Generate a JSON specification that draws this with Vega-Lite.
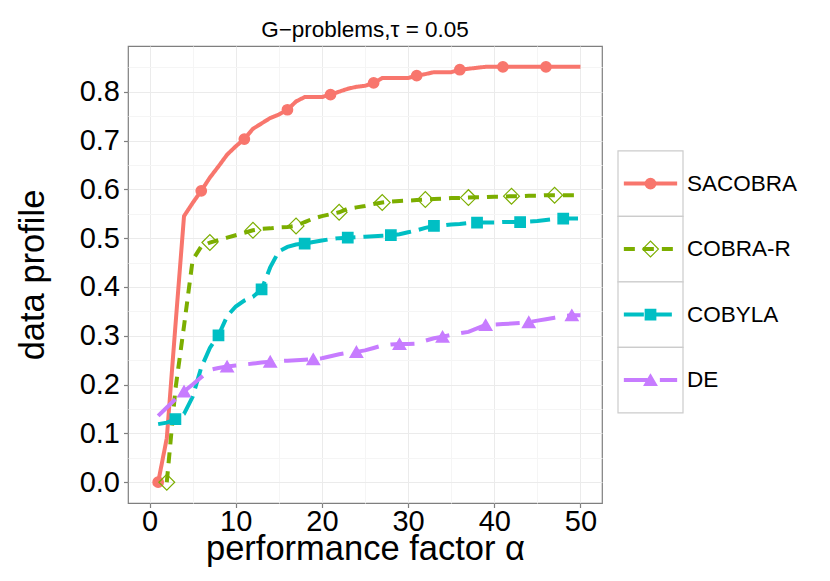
{
  "$schema": "https://vega.github.io/schema/vega-lite/v6.json",
  "background": "white",
  "padding": {"left": 15, "top": 17, "right": 5, "bottom": 5},
  "spacing": 14,
  "config": {
    "font": "Liberation Sans",
    "view": {"stroke": "#7F7F7F", "strokeWidth": 1.2},
    "axis": {
      "domain": false,
      "labelColor": "black",
      "labelFontSize": 29,
      "titleFontWeight": "normal",
      "titleColor": "black",
      "titleFontSize": 34.5,
      "tickColor": "#7F7F7F",
      "tickSize": 4.5,
      "tickWidth": 1.2,
      "gridWidth": 1
    },
    "axisX": {"labelPadding": 0, "titlePadding": -4},
    "axisY": {"labelPadding": 4, "titlePadding": 28.5},
    "title": {"fontSize": 22.5, "fontWeight": "normal", "color": "black", "offset": 5}
  },
  "datasets": {
    "profile": [
      {"solver": "SACOBRA", "alpha": 1, "profile": 0},
      {"solver": "SACOBRA", "alpha": 2, "profile": 0.09},
      {"solver": "SACOBRA", "alpha": 3, "profile": 0.32},
      {"solver": "SACOBRA", "alpha": 4, "profile": 0.545},
      {"solver": "SACOBRA", "alpha": 5, "profile": 0.572},
      {"solver": "SACOBRA", "alpha": 6, "profile": 0.597},
      {"solver": "SACOBRA", "alpha": 7, "profile": 0.624},
      {"solver": "SACOBRA", "alpha": 8, "profile": 0.647},
      {"solver": "SACOBRA", "alpha": 9, "profile": 0.671},
      {"solver": "SACOBRA", "alpha": 10, "profile": 0.688},
      {"solver": "SACOBRA", "alpha": 11, "profile": 0.703},
      {"solver": "SACOBRA", "alpha": 12, "profile": 0.724},
      {"solver": "SACOBRA", "alpha": 13, "profile": 0.735},
      {"solver": "SACOBRA", "alpha": 14, "profile": 0.746},
      {"solver": "SACOBRA", "alpha": 15, "profile": 0.753},
      {"solver": "SACOBRA", "alpha": 16, "profile": 0.763},
      {"solver": "SACOBRA", "alpha": 17, "profile": 0.78},
      {"solver": "SACOBRA", "alpha": 18, "profile": 0.789},
      {"solver": "SACOBRA", "alpha": 19, "profile": 0.789},
      {"solver": "SACOBRA", "alpha": 20, "profile": 0.789},
      {"solver": "SACOBRA", "alpha": 21, "profile": 0.794},
      {"solver": "SACOBRA", "alpha": 22, "profile": 0.8},
      {"solver": "SACOBRA", "alpha": 23, "profile": 0.806},
      {"solver": "SACOBRA", "alpha": 24, "profile": 0.81},
      {"solver": "SACOBRA", "alpha": 25, "profile": 0.812},
      {"solver": "SACOBRA", "alpha": 26, "profile": 0.818},
      {"solver": "SACOBRA", "alpha": 27, "profile": 0.828},
      {"solver": "SACOBRA", "alpha": 28, "profile": 0.828},
      {"solver": "SACOBRA", "alpha": 29, "profile": 0.828},
      {"solver": "SACOBRA", "alpha": 30, "profile": 0.828},
      {"solver": "SACOBRA", "alpha": 31, "profile": 0.833},
      {"solver": "SACOBRA", "alpha": 32, "profile": 0.836},
      {"solver": "SACOBRA", "alpha": 33, "profile": 0.84},
      {"solver": "SACOBRA", "alpha": 34, "profile": 0.84},
      {"solver": "SACOBRA", "alpha": 35, "profile": 0.84},
      {"solver": "SACOBRA", "alpha": 36, "profile": 0.845},
      {"solver": "SACOBRA", "alpha": 37, "profile": 0.847},
      {"solver": "SACOBRA", "alpha": 38, "profile": 0.849},
      {"solver": "SACOBRA", "alpha": 39, "profile": 0.851},
      {"solver": "SACOBRA", "alpha": 40, "profile": 0.851},
      {"solver": "SACOBRA", "alpha": 41, "profile": 0.851},
      {"solver": "SACOBRA", "alpha": 42, "profile": 0.851},
      {"solver": "SACOBRA", "alpha": 43, "profile": 0.851},
      {"solver": "SACOBRA", "alpha": 44, "profile": 0.851},
      {"solver": "SACOBRA", "alpha": 45, "profile": 0.851},
      {"solver": "SACOBRA", "alpha": 46, "profile": 0.851},
      {"solver": "SACOBRA", "alpha": 47, "profile": 0.851},
      {"solver": "SACOBRA", "alpha": 48, "profile": 0.851},
      {"solver": "SACOBRA", "alpha": 49, "profile": 0.851},
      {"solver": "SACOBRA", "alpha": 50, "profile": 0.851},
      {"solver": "COBRA-R", "alpha": 2, "profile": 0},
      {"solver": "COBRA-R", "alpha": 3, "profile": 0.19},
      {"solver": "COBRA-R", "alpha": 4, "profile": 0.32},
      {"solver": "COBRA-R", "alpha": 5, "profile": 0.455},
      {"solver": "COBRA-R", "alpha": 6, "profile": 0.483},
      {"solver": "COBRA-R", "alpha": 7, "profile": 0.491},
      {"solver": "COBRA-R", "alpha": 8, "profile": 0.496},
      {"solver": "COBRA-R", "alpha": 9, "profile": 0.501},
      {"solver": "COBRA-R", "alpha": 10, "profile": 0.506},
      {"solver": "COBRA-R", "alpha": 11, "profile": 0.511},
      {"solver": "COBRA-R", "alpha": 12, "profile": 0.516},
      {"solver": "COBRA-R", "alpha": 13, "profile": 0.519},
      {"solver": "COBRA-R", "alpha": 14, "profile": 0.52},
      {"solver": "COBRA-R", "alpha": 15, "profile": 0.522},
      {"solver": "COBRA-R", "alpha": 16, "profile": 0.523},
      {"solver": "COBRA-R", "alpha": 17, "profile": 0.525},
      {"solver": "COBRA-R", "alpha": 18, "profile": 0.533},
      {"solver": "COBRA-R", "alpha": 19, "profile": 0.54},
      {"solver": "COBRA-R", "alpha": 20, "profile": 0.545},
      {"solver": "COBRA-R", "alpha": 21, "profile": 0.549},
      {"solver": "COBRA-R", "alpha": 22, "profile": 0.553},
      {"solver": "COBRA-R", "alpha": 23, "profile": 0.56},
      {"solver": "COBRA-R", "alpha": 24, "profile": 0.563},
      {"solver": "COBRA-R", "alpha": 25, "profile": 0.566},
      {"solver": "COBRA-R", "alpha": 26, "profile": 0.57},
      {"solver": "COBRA-R", "alpha": 27, "profile": 0.573},
      {"solver": "COBRA-R", "alpha": 28, "profile": 0.575},
      {"solver": "COBRA-R", "alpha": 29, "profile": 0.576},
      {"solver": "COBRA-R", "alpha": 30, "profile": 0.577},
      {"solver": "COBRA-R", "alpha": 31, "profile": 0.578},
      {"solver": "COBRA-R", "alpha": 32, "profile": 0.579},
      {"solver": "COBRA-R", "alpha": 33, "profile": 0.58},
      {"solver": "COBRA-R", "alpha": 34, "profile": 0.581},
      {"solver": "COBRA-R", "alpha": 35, "profile": 0.582},
      {"solver": "COBRA-R", "alpha": 36, "profile": 0.582},
      {"solver": "COBRA-R", "alpha": 37, "profile": 0.583},
      {"solver": "COBRA-R", "alpha": 38, "profile": 0.584},
      {"solver": "COBRA-R", "alpha": 39, "profile": 0.584},
      {"solver": "COBRA-R", "alpha": 40, "profile": 0.585},
      {"solver": "COBRA-R", "alpha": 41, "profile": 0.585},
      {"solver": "COBRA-R", "alpha": 42, "profile": 0.586},
      {"solver": "COBRA-R", "alpha": 43, "profile": 0.586},
      {"solver": "COBRA-R", "alpha": 44, "profile": 0.587},
      {"solver": "COBRA-R", "alpha": 45, "profile": 0.587},
      {"solver": "COBRA-R", "alpha": 46, "profile": 0.588},
      {"solver": "COBRA-R", "alpha": 47, "profile": 0.588},
      {"solver": "COBRA-R", "alpha": 48, "profile": 0.588},
      {"solver": "COBRA-R", "alpha": 49, "profile": 0.588},
      {"solver": "COBRA-R", "alpha": 50, "profile": 0.588},
      {"solver": "COBYLA", "alpha": 1, "profile": 0.119},
      {"solver": "COBYLA", "alpha": 2, "profile": 0.122},
      {"solver": "COBYLA", "alpha": 3, "profile": 0.129},
      {"solver": "COBYLA", "alpha": 4, "profile": 0.14},
      {"solver": "COBYLA", "alpha": 5, "profile": 0.175},
      {"solver": "COBYLA", "alpha": 6, "profile": 0.235},
      {"solver": "COBYLA", "alpha": 7, "profile": 0.275},
      {"solver": "COBYLA", "alpha": 8, "profile": 0.301},
      {"solver": "COBYLA", "alpha": 9, "profile": 0.34},
      {"solver": "COBYLA", "alpha": 10, "profile": 0.36},
      {"solver": "COBYLA", "alpha": 11, "profile": 0.372},
      {"solver": "COBYLA", "alpha": 12, "profile": 0.38},
      {"solver": "COBYLA", "alpha": 13, "profile": 0.395},
      {"solver": "COBYLA", "alpha": 14, "profile": 0.44},
      {"solver": "COBYLA", "alpha": 15, "profile": 0.473},
      {"solver": "COBYLA", "alpha": 16, "profile": 0.482},
      {"solver": "COBYLA", "alpha": 17, "profile": 0.487},
      {"solver": "COBYLA", "alpha": 18, "profile": 0.489},
      {"solver": "COBYLA", "alpha": 19, "profile": 0.492},
      {"solver": "COBYLA", "alpha": 20, "profile": 0.495},
      {"solver": "COBYLA", "alpha": 21, "profile": 0.498},
      {"solver": "COBYLA", "alpha": 22, "profile": 0.5},
      {"solver": "COBYLA", "alpha": 23, "profile": 0.501},
      {"solver": "COBYLA", "alpha": 24, "profile": 0.502},
      {"solver": "COBYLA", "alpha": 25, "profile": 0.503},
      {"solver": "COBYLA", "alpha": 26, "profile": 0.504},
      {"solver": "COBYLA", "alpha": 27, "profile": 0.505},
      {"solver": "COBYLA", "alpha": 28, "profile": 0.506},
      {"solver": "COBYLA", "alpha": 29, "profile": 0.508},
      {"solver": "COBYLA", "alpha": 30, "profile": 0.512},
      {"solver": "COBYLA", "alpha": 31, "profile": 0.516},
      {"solver": "COBYLA", "alpha": 32, "profile": 0.521},
      {"solver": "COBYLA", "alpha": 33, "profile": 0.525},
      {"solver": "COBYLA", "alpha": 34, "profile": 0.526},
      {"solver": "COBYLA", "alpha": 35, "profile": 0.528},
      {"solver": "COBYLA", "alpha": 36, "profile": 0.529},
      {"solver": "COBYLA", "alpha": 37, "profile": 0.531},
      {"solver": "COBYLA", "alpha": 38, "profile": 0.532},
      {"solver": "COBYLA", "alpha": 39, "profile": 0.532},
      {"solver": "COBYLA", "alpha": 40, "profile": 0.532},
      {"solver": "COBYLA", "alpha": 41, "profile": 0.533},
      {"solver": "COBYLA", "alpha": 42, "profile": 0.533},
      {"solver": "COBYLA", "alpha": 43, "profile": 0.533},
      {"solver": "COBYLA", "alpha": 44, "profile": 0.534},
      {"solver": "COBYLA", "alpha": 45, "profile": 0.535},
      {"solver": "COBYLA", "alpha": 46, "profile": 0.537},
      {"solver": "COBYLA", "alpha": 47, "profile": 0.539},
      {"solver": "COBYLA", "alpha": 48, "profile": 0.54},
      {"solver": "COBYLA", "alpha": 49, "profile": 0.54},
      {"solver": "COBYLA", "alpha": 50, "profile": 0.54},
      {"solver": "DE", "alpha": 1, "profile": 0.136},
      {"solver": "DE", "alpha": 2, "profile": 0.153},
      {"solver": "DE", "alpha": 3, "profile": 0.17},
      {"solver": "DE", "alpha": 4, "profile": 0.186},
      {"solver": "DE", "alpha": 5, "profile": 0.2},
      {"solver": "DE", "alpha": 6, "profile": 0.215},
      {"solver": "DE", "alpha": 7, "profile": 0.23},
      {"solver": "DE", "alpha": 8, "profile": 0.234},
      {"solver": "DE", "alpha": 9, "profile": 0.237},
      {"solver": "DE", "alpha": 10, "profile": 0.239},
      {"solver": "DE", "alpha": 11, "profile": 0.241},
      {"solver": "DE", "alpha": 12, "profile": 0.243},
      {"solver": "DE", "alpha": 13, "profile": 0.245},
      {"solver": "DE", "alpha": 14, "profile": 0.247},
      {"solver": "DE", "alpha": 15, "profile": 0.248},
      {"solver": "DE", "alpha": 16, "profile": 0.249},
      {"solver": "DE", "alpha": 17, "profile": 0.25},
      {"solver": "DE", "alpha": 18, "profile": 0.251},
      {"solver": "DE", "alpha": 19, "profile": 0.252},
      {"solver": "DE", "alpha": 20, "profile": 0.254},
      {"solver": "DE", "alpha": 21, "profile": 0.258},
      {"solver": "DE", "alpha": 22, "profile": 0.262},
      {"solver": "DE", "alpha": 23, "profile": 0.265},
      {"solver": "DE", "alpha": 24, "profile": 0.267},
      {"solver": "DE", "alpha": 25, "profile": 0.27},
      {"solver": "DE", "alpha": 26, "profile": 0.275},
      {"solver": "DE", "alpha": 27, "profile": 0.28},
      {"solver": "DE", "alpha": 28, "profile": 0.282},
      {"solver": "DE", "alpha": 29, "profile": 0.283},
      {"solver": "DE", "alpha": 30, "profile": 0.283},
      {"solver": "DE", "alpha": 31, "profile": 0.284},
      {"solver": "DE", "alpha": 32, "profile": 0.29},
      {"solver": "DE", "alpha": 33, "profile": 0.295},
      {"solver": "DE", "alpha": 34, "profile": 0.298},
      {"solver": "DE", "alpha": 35, "profile": 0.302},
      {"solver": "DE", "alpha": 36, "profile": 0.305},
      {"solver": "DE", "alpha": 37, "profile": 0.308},
      {"solver": "DE", "alpha": 38, "profile": 0.315},
      {"solver": "DE", "alpha": 39, "profile": 0.322},
      {"solver": "DE", "alpha": 40, "profile": 0.323},
      {"solver": "DE", "alpha": 41, "profile": 0.324},
      {"solver": "DE", "alpha": 42, "profile": 0.325},
      {"solver": "DE", "alpha": 43, "profile": 0.326},
      {"solver": "DE", "alpha": 44, "profile": 0.328},
      {"solver": "DE", "alpha": 45, "profile": 0.331},
      {"solver": "DE", "alpha": 46, "profile": 0.334},
      {"solver": "DE", "alpha": 47, "profile": 0.337},
      {"solver": "DE", "alpha": 48, "profile": 0.34},
      {"solver": "DE", "alpha": 49, "profile": 0.342},
      {"solver": "DE", "alpha": 50, "profile": 0.342}
    ]
  },
  "hconcat": [
    {
      "width": 474,
      "height": 457,
      "title": {"text": "G−problems,τ = 0.05", "anchor": "middle"},
      "data": {"name": "profile"},
      "encoding": {
        "x": {
          "field": "alpha",
          "type": "quantitative",
          "scale": {"domain": [-2.5, 52.5], "nice": false, "zero": false},
          "axis": {
            "title": "performance factor α",
            "values": [0, 5, 10, 15, 20, 25, 30, 35, 40, 45, 50],
            "labelExpr": "datum.value % 10 == 0 ? datum.label : ''",
            "tickOpacity": {"condition": {"test": "datum.value % 10 == 0", "value": 1}, "value": 0},
            "gridColor": {"condition": {"test": "datum.value % 10 == 0", "value": "#EBEBEB"}, "value": "#F5F5F5"}
          }
        },
        "y": {
          "field": "profile",
          "type": "quantitative",
          "scale": {"domain": [-0.0426, 0.8936], "nice": false, "zero": false},
          "axis": {
            "title": "data profile",
            "values": [0, 0.05, 0.1, 0.15, 0.2, 0.25, 0.3, 0.35, 0.4, 0.45, 0.5, 0.55, 0.6, 0.65, 0.7, 0.75, 0.8, 0.85],
            "labelExpr": "round(datum.value * 100) % 10 == 0 ? format(datum.value, '.1f') : ''",
            "tickOpacity": {"condition": {"test": "round(datum.value * 100) % 10 == 0", "value": 1}, "value": 0},
            "gridColor": {"condition": {"test": "round(datum.value * 100) % 10 == 0", "value": "#EBEBEB"}, "value": "#F5F5F5"}
          }
        }
      },
      "layer": [
        {
          "mark": {"type": "line", "strokeWidth": 4},
          "encoding": {
            "color": {
              "field": "solver",
              "type": "nominal",
              "scale": {"domain": ["SACOBRA", "COBRA-R", "COBYLA", "DE"], "range": ["#F8766D", "#7CAE00", "#00BFC4", "#C77CFF"]},
              "legend": null
            },
            "strokeDash": {
              "field": "solver",
              "type": "nominal",
              "scale": {"domain": ["SACOBRA", "COBRA-R", "COBYLA", "DE"], "range": [[1, 0], [11, 8], [20, 8], [24, 12]]},
              "legend": null
            }
          }
        },
        {
          "transform": [
            {"filter": "(datum.alpha - indexof(['SACOBRA', 'COBRA-R', 'COBYLA', 'DE'], datum.solver) - 1) % 5 == 0"}
          ],
          "mark": {"type": "point", "filled": true, "opacity": 1},
          "encoding": {
            "fill": {
              "field": "solver",
              "type": "nominal",
              "scale": {"domain": ["SACOBRA", "COBRA-R", "COBYLA", "DE"], "range": ["#F8766D", "transparent", "#00BFC4", "#C77CFF"]},
              "legend": null
            },
            "stroke": {
              "field": "solver",
              "type": "nominal",
              "scale": {"domain": ["SACOBRA", "COBRA-R", "COBYLA", "DE"], "range": ["#F8766D", "#7CAE00", "#00BFC4", "#C77CFF"]},
              "legend": null
            },
            "shape": {
              "field": "solver",
              "type": "nominal",
              "scale": {"domain": ["SACOBRA", "COBRA-R", "COBYLA", "DE"], "range": ["circle", "diamond", "square", "triangle-up"]},
              "legend": null
            },
            "size": {
              "condition": [
                {"test": "datum.solver == 'COBRA-R'", "value": 250},
                {"test": "datum.solver == 'DE'", "value": 150}
              ],
              "value": 105
            },
            "strokeWidth": {
              "condition": {"test": "datum.solver == 'COBRA-R'", "value": 1.2},
              "value": 1.5
            }
          }
        }
      ]
    },
    {
      "width": 65,
      "height": 393,
      "view": {"stroke": null},
      "data": {"name": "profile"},
      "transform": [{"aggregate": [], "groupby": ["solver"]}],
      "encoding": {
        "y": {
          "field": "solver",
          "type": "nominal",
          "scale": {"domain": ["SACOBRA", "COBRA-R", "COBYLA", "DE"], "paddingInner": 0, "paddingOuter": 1, "align": 0.8},
          "axis": null
        }
      },
      "layer": [
        {
          "mark": {"type": "rect", "fill": "white", "stroke": "#CCCCCC", "strokeWidth": 1.2},
          "encoding": {
            "x": {"datum": 0, "type": "quantitative", "scale": {"domain": [0, 1]}, "axis": null},
            "x2": {"datum": 1}
          }
        },
        {
          "mark": {"type": "rule", "strokeWidth": 4},
          "encoding": {
            "x": {"datum": 0.09, "type": "quantitative", "scale": {"domain": [0, 1]}, "axis": null},
            "x2": {"datum": 0.91},
            "color": {
              "field": "solver",
              "type": "nominal",
              "scale": {"domain": ["SACOBRA", "COBRA-R", "COBYLA", "DE"], "range": ["#F8766D", "#7CAE00", "#00BFC4", "#C77CFF"]},
              "legend": null
            },
            "strokeDash": {
              "field": "solver",
              "type": "nominal",
              "scale": {"domain": ["SACOBRA", "COBRA-R", "COBYLA", "DE"], "range": [[1, 0], [11, 8], [20, 8], [24, 12]]},
              "legend": null
            }
          }
        },
        {
          "mark": {"type": "point", "filled": true, "opacity": 1},
          "encoding": {
            "x": {"datum": 0.5, "type": "quantitative", "scale": {"domain": [0, 1]}, "axis": null},
            "fill": {
              "field": "solver",
              "type": "nominal",
              "scale": {"domain": ["SACOBRA", "COBRA-R", "COBYLA", "DE"], "range": ["#F8766D", "white", "#00BFC4", "#C77CFF"]},
              "legend": null
            },
            "stroke": {
              "field": "solver",
              "type": "nominal",
              "scale": {"domain": ["SACOBRA", "COBRA-R", "COBYLA", "DE"], "range": ["#F8766D", "#7CAE00", "#00BFC4", "#C77CFF"]},
              "legend": null
            },
            "shape": {
              "field": "solver",
              "type": "nominal",
              "scale": {"domain": ["SACOBRA", "COBRA-R", "COBYLA", "DE"], "range": ["circle", "diamond", "square", "triangle-up"]},
              "legend": null
            },
            "size": {
              "condition": [
                {"test": "datum.solver == 'COBRA-R'", "value": 250},
                {"test": "datum.solver == 'DE'", "value": 150}
              ],
              "value": 105
            },
            "strokeWidth": {
              "condition": {"test": "datum.solver == 'COBRA-R'", "value": 1.2},
              "value": 1.5
            }
          }
        },
        {
          "mark": {"type": "text", "align": "left", "baseline": "middle", "dx": 4, "fontSize": 22.5, "color": "black"},
          "encoding": {
            "x": {"datum": 1, "type": "quantitative", "scale": {"domain": [0, 1]}, "axis": null},
            "text": {"field": "solver", "type": "nominal"}
          }
        }
      ]
    }
  ]
}
